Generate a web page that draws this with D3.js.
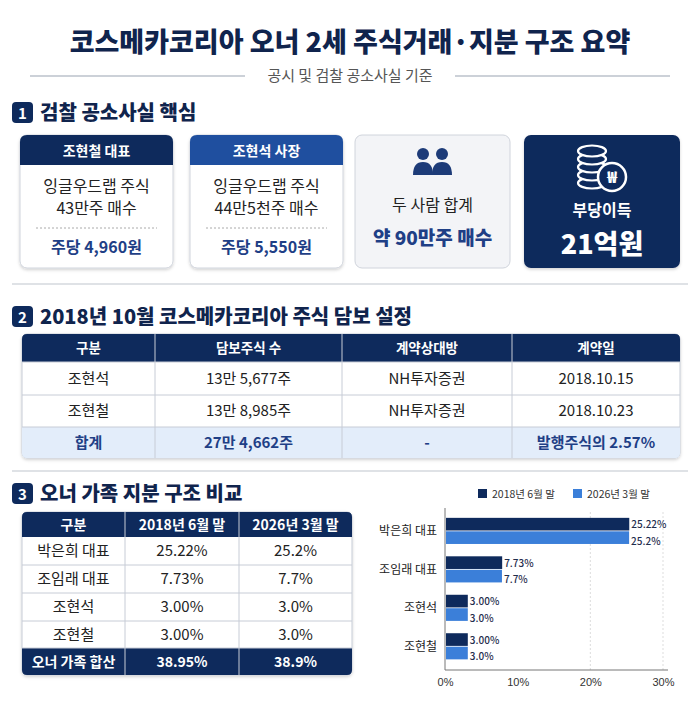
<!DOCTYPE html>
<html><head><meta charset="utf-8">
<script src="https://cdn.jsdelivr.net/npm/d3@7"></script>
<style>
body{margin:0;background:#fff}
svg{font-family:"Noto Sans CJK KR","Noto Sans",sans-serif}
</style></head>
<body><svg id="c" width="700" height="715"></svg>
<script>
const NAVY = '#0e2a5c', BLUE = '#3b7fd9', MID = '#1f4f9f';

// section 1 cards
const cards = [
  {title: '조현철 대표', lines: ['잉글우드랩 주식', '43만주 매수'], price: '주당 4,960원'},
  {title: '조현석 사장', lines: ['잉글우드랩 주식', '44만5천주 매수'], price: '주당 5,550원'},
];
const sumText = ['두 사람 합계', '약 90만주 매수'];
const gainText = ['부당이득', '21억원'];

// section 2 table
const pledgeHead = ['구분', '담보주식 수', '계약상대방', '계약일'];
const pledgeRows = [
  ['조현석', '13만 5,677주', 'NH투자증권', '2018.10.15'],
  ['조현철', '13만 8,985주', 'NH투자증권', '2018.10.23'],
];
const pledgeTotal = ['합계', '27만 4,662주', '-', '발행주식의 2.57%'];

// section 3
const holders = ['박은희 대표', '조임래 대표', '조현석', '조현철'];
const share2018 = [25.22, 7.73, 3.00, 3.00];
const share2026 = [25.2, 7.7, 3.0, 3.0];
const label2018 = ['25.22%', '7.73%', '3.00%', '3.00%'];
const label2026 = ['25.2%', '7.7%', '3.0%', '3.0%'];
const ownHead = ['구분', '2018년 6월 말', '2026년 3월 말'];
const ownTotal = ['오너 가족 합산', '38.95%', '38.9%'];
const seriesNames = ['2018년 6월 말', '2026년 3월 말'];
const xTicks = [0, 10, 20, 30];

const svg = d3.select('#c');
const defs = svg.append('defs');
defs.append('filter').attr('id', 'sh').append('feDropShadow')
  .attr('dx', 0).attr('dy', 1.5).attr('stdDeviation', 1.5).attr('flood-opacity', 0.18);

// title
svg.append('text').attr('x', 350).attr('y', 52).attr('text-anchor', 'middle')
  .attr('font-size', 27).attr('font-weight', 900).attr('fill', '#10244d')
  .text('코스메카코리아 오너 2세 주식거래·지분 구조 요약');
svg.append('text').attr('x', 350).attr('y', 81).attr('text-anchor', 'middle')
  .attr('font-size', 15).attr('fill', '#555').text('공시 및 검찰 공소사실 기준');
[[30, 245], [455, 670]].forEach(([a, b]) =>
  svg.append('line').attr('x1', a).attr('x2', b).attr('y1', 76).attr('y2', 76)
    .attr('stroke', '#9aa3b2').attr('stroke-width', 1.2));

function section(num, label, y) {
  svg.append('rect').attr('x', 12).attr('y', y - 17).attr('width', 21).attr('height', 21)
    .attr('rx', 4).attr('fill', NAVY);
  svg.append('text').attr('x', 22.5).attr('y', y - 0.5).attr('text-anchor', 'middle')
    .attr('font-size', 15).attr('font-weight', 700).attr('fill', '#fff').text(num);
  svg.append('text').attr('x', 40).attr('y', y + 1).attr('font-size', 20)
    .attr('font-weight', 800).attr('fill', '#10244d').text(label);
}
function sep(y) {
  svg.append('line').attr('x1', 12).attr('x2', 688).attr('y1', y).attr('y2', y)
    .attr('stroke', '#d5d8de').attr('stroke-width', 1.5);
}

// ---- section 1
section('1', '검찰 공소사실 핵심', 119);
const cardX = [20, 190];
cards.forEach((c, i) => {
  const g = svg.append('g').attr('transform', `translate(${cardX[i]},135)`);
  g.append('rect').attr('width', 153).attr('height', 133).attr('rx', 7)
    .attr('fill', '#fff').attr('stroke', '#d0d4dc').attr('filter', 'url(#sh)');
  g.append('path').attr('d', 'M0,30 V7 Q0,0 7,0 H146 Q153,0 153,7 V30 Z')
    .attr('fill', i === 0 ? NAVY : MID);
  g.append('text').attr('x', 76.5).attr('y', 21).attr('text-anchor', 'middle')
    .attr('font-size', 14).attr('font-weight', 700).attr('fill', '#fff').text(c.title);
  c.lines.forEach((t, j) => g.append('text').attr('x', 76.5).attr('y', 57 + j * 22)
    .attr('text-anchor', 'middle').attr('font-size', 16).attr('fill', '#222').text(t));
  g.append('line').attr('x1', 16).attr('x2', 137).attr('y1', 93).attr('y2', 93)
    .attr('stroke', '#aaa').attr('stroke-dasharray', '2,2');
  g.append('text').attr('x', 76.5).attr('y', 118).attr('text-anchor', 'middle')
    .attr('font-size', 16).attr('font-weight', 700).attr('fill', '#1f3f86').text(c.price);
});
{
  const g = svg.append('g').attr('transform', 'translate(355,135)');
  g.append('rect').attr('width', 155).attr('height', 133).attr('rx', 7)
    .attr('fill', '#f3f4f7').attr('stroke', '#d0d4dc');
  [68, 87].forEach(cx => {
    g.append('circle').attr('cx', cx).attr('cy', 19).attr('r', 6).attr('fill', '#1d3b78');
    g.append('path').attr('d', `M${cx - 10},40 Q${cx - 10},27 ${cx},27 Q${cx + 10},27 ${cx + 10},40 Z`)
      .attr('fill', '#1d3b78');
  });
  g.append('text').attr('x', 77.5).attr('y', 76).attr('text-anchor', 'middle')
    .attr('font-size', 16).attr('fill', '#222').text(sumText[0]);
  g.append('text').attr('x', 77.5).attr('y', 110).attr('text-anchor', 'middle')
    .attr('font-size', 19).attr('font-weight', 800).attr('fill', '#1f3f86').text(sumText[1]);
}
{
  const g = svg.append('g').attr('transform', 'translate(524,135)');
  g.append('rect').attr('width', 156).attr('height', 133).attr('rx', 7).attr('fill', NAVY)
    .attr('filter', 'url(#sh)');
  [0, 1, 2, 3, 4].forEach(k => g.append('ellipse').attr('cx', 68).attr('cy', 48 - k * 8)
    .attr('rx', 14).attr('ry', 5.5).attr('fill', NAVY).attr('stroke', '#fff').attr('stroke-width', 2.2));
  g.append('circle').attr('cx', 88).attr('cy', 42).attr('r', 14).attr('fill', NAVY)
    .attr('stroke', '#fff').attr('stroke-width', 2.5);
  g.append('text').attr('x', 88).attr('y', 48).attr('text-anchor', 'middle').attr('font-size', 16)
    .attr('font-weight', 800).attr('fill', '#fff').text('₩');
  g.append('text').attr('x', 78).attr('y', 81).attr('text-anchor', 'middle')
    .attr('font-size', 16).attr('font-weight', 700).attr('fill', '#fff').text(gainText[0]);
  g.append('text').attr('x', 78).attr('y', 119).attr('text-anchor', 'middle')
    .attr('font-size', 27).attr('font-weight', 900).attr('fill', '#fff').text(gainText[1]);
}
sep(284);

// ---- section 2
section('2', '2018년 10월 코스메카코리아 주식 담보 설정', 323);
const colEdges = [22, 155, 342, 512, 680];
const tableRows = [pledgeHead, ...pledgeRows, pledgeTotal];
const rowY = [334, 362, 395, 427, 458];
const t2 = svg.append('g');
t2.append('rect').attr('x', 22).attr('y', 334).attr('width', 658).attr('height', 124).attr('rx', 5)
  .attr('fill', '#fff').attr('stroke', '#c7ccd6').attr('filter', 'url(#sh)');
t2.append('path').attr('d', 'M22,362 V339 Q22,334 27,334 H675 Q680,334 680,339 V362 Z').attr('fill', NAVY);
t2.append('path').attr('d', 'M22,427 H680 V453 Q680,458 675,458 H27 Q22,458 22,453 Z').attr('fill', '#e3edfa');
tableRows.forEach((r, ri) => {
  if (ri > 0) t2.append('line').attr('x1', 22).attr('x2', 680).attr('y1', rowY[ri]).attr('y2', rowY[ri])
    .attr('stroke', '#c7ccd6');
  r.forEach((cell, ci) => {
    const cx = (colEdges[ci] + colEdges[ci + 1]) / 2;
    t2.append('text').attr('x', cx).attr('y', (rowY[ri] + rowY[ri + 1]) / 2 + 5)
      .attr('text-anchor', 'middle').attr('font-size', ri === 0 ? 13.5 : 15)
      .attr('font-weight', ri === 0 || ri === 3 ? 700 : 400)
      .attr('fill', ri === 0 ? '#fff' : ri === 3 ? '#1f3f86' : '#222').text(cell);
  });
});
colEdges.slice(1, -1).forEach(x => t2.append('line').attr('x1', x).attr('x2', x)
  .attr('y1', 334).attr('y2', 458).attr('stroke', '#c7ccd6'));
sep(471);

// ---- section 3
section('3', '오너 가족 지분 구조 비교', 500);
const oEdges = [22, 125, 239, 352];
const oRowsAll = [ownHead, ...holders.map((h, i) => [h, label2018[i], label2026[i]]), ownTotal];
const oY = [512, 537, 565, 593, 621, 648, 675];
const t3 = svg.append('g');
t3.append('rect').attr('x', 22).attr('y', 512).attr('width', 330).attr('height', 163).attr('rx', 5)
  .attr('fill', '#fff').attr('stroke', '#c7ccd6').attr('filter', 'url(#sh)');
t3.append('path').attr('d', 'M22,537 V517 Q22,512 27,512 H347 Q352,512 352,517 V537 Z').attr('fill', NAVY);
t3.append('path').attr('d', 'M22,648 H352 V670 Q352,675 347,675 H27 Q22,675 22,670 Z').attr('fill', NAVY);
oRowsAll.forEach((r, ri) => {
  if (ri > 1 && ri < 6) t3.append('line').attr('x1', 22).attr('x2', 352).attr('y1', oY[ri]).attr('y2', oY[ri])
    .attr('stroke', '#c7ccd6');
  const dark = ri === 0 || ri === 5;
  r.forEach((cell, ci) => {
    t3.append('text').attr('x', (oEdges[ci] + oEdges[ci + 1]) / 2).attr('y', (oY[ri] + oY[ri + 1]) / 2 + 5)
      .attr('text-anchor', 'middle').attr('font-size', dark ? 14 : 15)
      .attr('font-weight', dark ? 700 : 400).attr('fill', dark ? '#fff' : '#222').text(cell);
  });
});
oEdges.slice(1, -1).forEach(x => t3.append('line').attr('x1', x).attr('x2', x)
  .attr('y1', 512).attr('y2', 675).attr('stroke', '#c7ccd6'));

// bar chart
const x = d3.scaleLinear().domain([0, 30]).range([445, 663]);
const y = d3.scaleBand().domain(holders).range([514, 664]).paddingInner(0.3).paddingOuter(0.1);
const ch = svg.append('g');
xTicks.slice(2).forEach(t => ch.append('line').attr('x1', x(t)).attr('x2', x(t))
  .attr('y1', 512).attr('y2', 670).attr('stroke', '#ddd').attr('stroke-dasharray', '2,2'));
const ax = ch.append('g').attr('transform', 'translate(0,670)')
  .call(d3.axisBottom(x).tickValues(xTicks).tickFormat(d => d + '%').tickSize(0).tickPadding(8));
ax.select('.domain').attr('stroke', '#777').attr('d', 'M445,0H668');
ax.selectAll('text').attr('font-size', 11).attr('fill', '#333').attr('font-family', 'inherit');
ch.append('line').attr('x1', 445).attr('x2', 445).attr('y1', 508).attr('y2', 670).attr('stroke', '#777');
const bh = y.bandwidth() / 2;
[[share2018, label2018, NAVY], [share2026, label2026, BLUE]].forEach(([vals, labs, col], s) => {
  ch.selectAll(null).data(holders).join('rect')
    .attr('x', x(0) + 1).attr('y', d => y(d) + s * bh).attr('height', bh - 0.8)
    .attr('width', (d, i) => x(vals[i]) - x(0)).attr('fill', col);
  ch.selectAll(null).data(holders).join('text')
    .attr('x', (d, i) => x(vals[i]) + 3).attr('y', d => y(d) + (s + 1) * bh + (s ? 0 : -3))
    .attr('font-size', 10).attr('font-weight', 500).attr('fill', '#1f2d4d').text((d, i) => labs[i]);
});
ch.selectAll(null).data(holders).join('text')
  .attr('x', 437).attr('y', d => y(d) + bh + 4).attr('text-anchor', 'end')
  .attr('font-size', 12).attr('fill', '#222').text(d => d);
seriesNames.forEach((n, i) => {
  const lx = [478, 573][i];
  ch.append('rect').attr('x', lx).attr('y', 489).attr('width', 9).attr('height', 9).attr('fill', [NAVY, BLUE][i]);
  ch.append('text').attr('x', lx + 14).attr('y', 497.5).attr('font-size', 10.5).attr('fill', '#333').text(n);
});
</script></body></html>
